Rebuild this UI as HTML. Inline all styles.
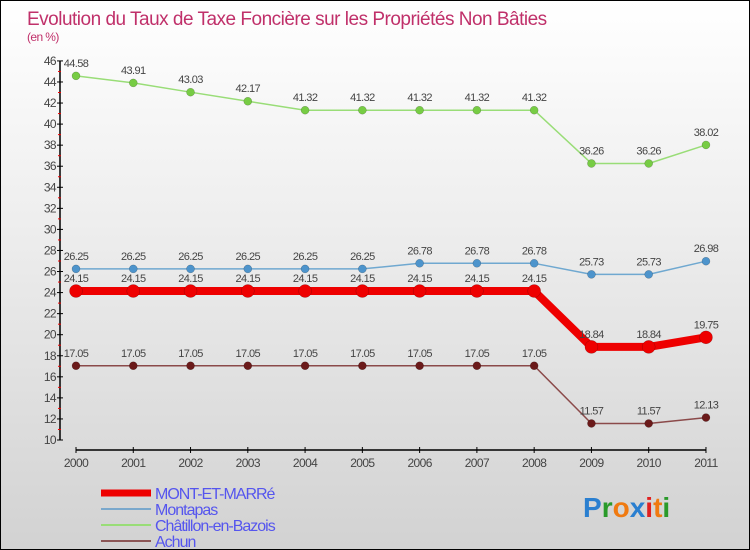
<!DOCTYPE html>
<html><head><meta charset="utf-8"><style>
body{margin:0;width:750px;height:550px;overflow:hidden;font-family:"Liberation Sans",sans-serif}
#wrap{position:relative;width:748px;height:548px;border:1px solid #000;background:linear-gradient(#ffffff 0%,#eeeeee 40%,#d2d2d2 100%)}
</style></head><body>
<div id="wrap">
<svg id="chart" width="748" height="548" style="position:absolute;left:0;top:0"></svg>
</div>
<script>
const years=[2000,2001,2002,2003,2004,2005,2006,2007,2008,2009,2010,2011];
const mont=[24.15,24.15,24.15,24.15,24.15,24.15,24.15,24.15,24.15,18.84,18.84,19.75];
const montapas=[26.25,26.25,26.25,26.25,26.25,26.25,26.78,26.78,26.78,25.73,25.73,26.98];
const chatillon=[44.58,43.91,43.03,42.17,41.32,41.32,41.32,41.32,41.32,36.26,36.26,38.02];
const achun=[17.05,17.05,17.05,17.05,17.05,17.05,17.05,17.05,17.05,11.57,11.57,12.13];
const yTicks=[10,12,14,16,18,20,22,24,26,28,30,32,34,36,38,40,42,44,46];
const NS="http://www.w3.org/2000/svg";
const svg=document.getElementById('chart');
const X=i=>75+i*57.27;
const Y=v=>439-(v-10)*10.53;
function el(t,a,p){const e=document.createElementNS(NS,t);for(const k in a)e.setAttribute(k,a[k]);(p||svg).appendChild(e);return e;}
function txt(x,y,s,a){const t=el('text',Object.assign({x:x,y:y,'font-size':11,fill:'#444','letter-spacing':'-0.6'},a));t.textContent=s;return t;}
let t=txt(26,24,'Evolution du Taux de Taxe Foncière sur les Propriétés Non Bâties',{'font-size':19,fill:'#c0306a','letter-spacing':'-0.5'});

t=txt(26,40,'(en %)',{'font-size':12,fill:'#c0306a'});

let ax=el('line',{x1:59,y1:Y(46),x2:59,y2:Y(10),stroke:'#000','stroke-width':1.5});

yTicks.forEach(v=>{el('line',{x1:56,x2:62,y1:Y(v),y2:Y(v),stroke:'#000'});
 if(v<46)el('line',{x1:57,x2:60,y1:Y(v+1),y2:Y(v+1),stroke:'#e00'});
 const l=txt(55,Y(v)+4,String(v),{'text-anchor':'end','font-size':12});
 });
ax=el('line',{x1:75,y1:449,x2:X(11),y2:449,stroke:'#000','stroke-width':1.5});

years.forEach((yr,i)=>{el('line',{x1:X(i),x2:X(i),y1:446,y2:452,stroke:'#000'});
 const l=txt(X(i),466,String(yr),{'text-anchor':'middle','font-size':12});
 });
function series(name,data,color,w,r,pt,labelDy){
 const g=el('g',{});
 el('polyline',{points:data.map((v,i)=>X(i)+','+Y(v)).join(' '),fill:'none',stroke:color,'stroke-width':w,'stroke-linejoin':'round'},g);
 data.forEach((v,i)=>{const c=el('circle',{cx:X(i),cy:Y(v),r:r,fill:pt,stroke:'rgba(0,0,0,0.3)','stroke-width':0.5},g);
  
  const l=txt(X(i),Y(v)+labelDy,String(v),{'text-anchor':'middle'},g);
  });
}
series('chatillon',chatillon,'#99dd77',1.5,4,'#77cc44',-9);
series('montapas',montapas,'#6fa8d0',1.5,4,'#4d94cc',-9);
series('achun',achun,'#8b4a4a',1.5,4,'#6b1a1a',-9);
series('mont-et-marre',mont,'#ee0000',8,6.5,'#ee0000',-9);
const legend=[['MONT-ET-MARRé','#ee0000',7],['Montapas','#7aa8cc',2],['Châtillon-en-Bazois','#99dd77',2],['Achun','#8b5555',2]];
legend.forEach((l,i)=>{const g=el('g',{});
 const y=492+i*16;el('line',{x1:100,x2:150,y1:y,y2:y,stroke:l[1],'stroke-width':l[2]},g);
 txt(154,y+6,l[0],{'font-size':16,fill:'#5555ee','letter-spacing':'-1'},g);});
const lg=el('text',{x:582,y:516,'font-size':28,'font-weight':'bold','font-family':'Liberation Sans,sans-serif'});

[['P','#2a7fd0'],['r','#2a9a2a'],['o','#f07a10'],['x','#2a7fd0'],['i','#e02020'],['t','#f07a10'],['i','#2a9a2a']].forEach(c=>{const s=el('tspan',{fill:c[1]},lg);s.textContent=c[0];});
</script>
</body></html>
